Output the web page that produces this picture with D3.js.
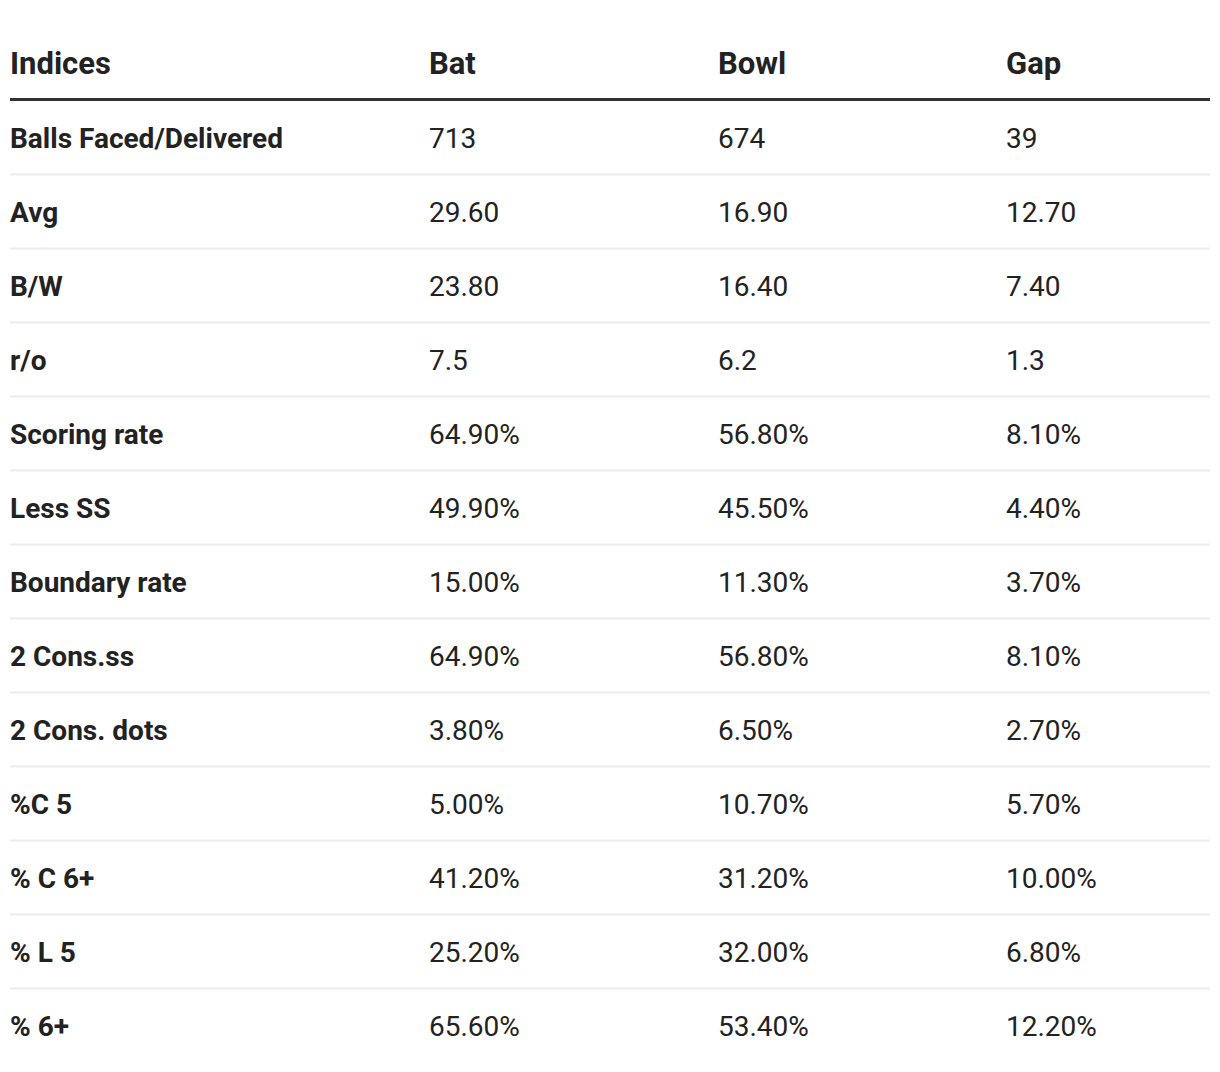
<!DOCTYPE html>
<html>
<head>
<meta charset="utf-8">
<script src="https://cdn.jsdelivr.net/npm/d3@7"></script>
<style>
  body { margin: 0; background: #fff; }
  svg { display: block; font-family: Roboto, "Noto Sans", sans-serif; }
</style>
</head>
<body>
<svg id="chart" width="1220" height="1072"></svg>
<script>
const columns = ['Indices', 'Bat', 'Bowl', 'Gap'];
const indices = ['Balls Faced/Delivered', 'Avg', 'B/W', 'r/o', 'Scoring rate', 'Less SS',
  'Boundary rate', '2 Cons.ss', '2 Cons. dots', '%C 5', '% C 6+', '% L 5', '% 6+'];
const bat = ['713', '29.60', '23.80', '7.5', '64.90%', '49.90%', '15.00%', '64.90%', '3.80%', '5.00%', '41.20%', '25.20%', '65.60%'];
const bowl = ['674', '16.90', '16.40', '6.2', '56.80%', '45.50%', '11.30%', '56.80%', '6.50%', '10.70%', '31.20%', '32.00%', '53.40%'];
const gap = ['39', '12.70', '7.40', '1.3', '8.10%', '4.40%', '3.70%', '8.10%', '2.70%', '5.70%', '10.00%', '6.80%', '12.20%'];

const rows = indices.map((d, i) => ({ Indices: d, Bat: bat[i], Bowl: bowl[i], Gap: gap[i] }));

const left = 10, right = 1210;
const headBottom = 101, bodyBottom = 1063;

const svg = d3.select('#chart');

// column start positions
const x = d3.scaleOrdinal().domain(columns).range([10, 429, 718, 1006]);
const y = d3.scaleBand().domain(d3.range(rows.length)).range([headBottom, bodyBottom]);

// header
svg.selectAll('.head')
  .data(columns)
  .enter()
  .append('text')
  .attr('class', 'head')
  .attr('x', d => x(d))
  .attr('y', 74)
  .attr('font-size', 31)
  .attr('font-weight', 700)
  .attr('fill', '#222')
  .text(d => d);

svg.append('line')
  .attr('x1', left).attr('x2', right)
  .attr('y1', 99.5).attr('y2', 99.5)
  .attr('stroke', '#333').attr('stroke-width', 3);

// row separators
svg.selectAll('.sep')
  .data(rows.slice(0, -1))
  .enter()
  .append('line')
  .attr('class', 'sep')
  .attr('x1', left).attr('x2', right)
  .attr('y1', (d, i) => y(i) + y.bandwidth() - 0.5)
  .attr('y2', (d, i) => y(i) + y.bandwidth() - 0.5)
  .attr('stroke', '#ebebeb').attr('stroke-width', 2);

const row = svg.selectAll('.row')
  .data(rows)
  .enter()
  .append('g')
  .attr('class', 'row')
  .attr('transform', (d, i) => `translate(0,${y(i) + y.bandwidth() / 2})`);

row.selectAll('text')
  .data(d => columns.map(c => ({ col: c, val: d[c] })))
  .enter()
  .append('text')
  .attr('x', d => x(d.col))
  .attr('y', 9.8)
  .attr('font-size', 28)
  .attr('font-weight', d => d.col === 'Indices' ? 700 : 400)
  .attr('fill', '#222')
  .text(d => d.val);
</script>
</body>
</html>
